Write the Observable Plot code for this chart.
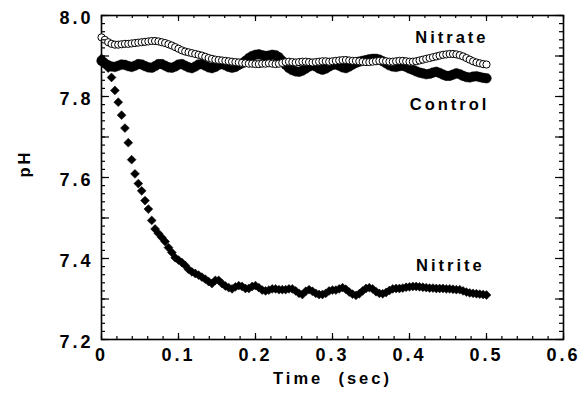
<!DOCTYPE html>
<html><head><meta charset="utf-8">
<script src="https://cdn.jsdelivr.net/npm/d3@7"></script>
<script src="https://cdn.jsdelivr.net/npm/@observablehq/plot@0.6"></script>
<style>
html,body{margin:0;padding:0;background:#fff;}
.chart text{letter-spacing:3px;}
</style></head><body><div id="chart"></div>
<script>
// Sampling grid: 116 samples from 0 to 0.5 s
const nSamples = 116;
const time = d3.range(nSamples).map(i => i * 0.5 / (nSamples - 1));

const nitrate = [
 7.946,7.940,7.934,7.930,7.928,7.928,7.929,7.930,7.930,7.931,
 7.932,7.933,7.934,7.935,7.936,7.937,7.937,7.936,7.934,7.932,
 7.929,7.926,7.922,7.918,7.914,7.911,7.909,7.907,7.905,7.903,
 7.901,7.898,7.895,7.893,7.891,7.890,7.889,7.888,7.887,7.886,
 7.885,7.884,7.883,7.882,7.881,7.881,7.880,7.880,7.881,7.881,
 7.882,7.881,7.880,7.881,7.883,7.885,7.886,7.885,7.884,7.885,
 7.886,7.886,7.885,7.884,7.885,7.886,7.887,7.887,7.886,7.887,
 7.888,7.889,7.890,7.890,7.889,7.888,7.888,7.887,7.886,7.885,
 7.885,7.886,7.887,7.888,7.888,7.887,7.886,7.886,7.887,7.888,
 7.888,7.887,7.886,7.886,7.887,7.889,7.891,7.893,7.895,7.897,
 7.899,7.901,7.903,7.904,7.905,7.905,7.904,7.902,7.899,7.895,
 7.891,7.887,7.884,7.882,7.880,7.879];

const control = [
 7.888,7.882,7.877,7.874,7.873,7.876,7.879,7.878,7.875,7.873,
 7.876,7.880,7.879,7.875,7.872,7.871,7.875,7.880,7.880,7.876,
 7.872,7.871,7.874,7.879,7.880,7.876,7.872,7.870,7.874,7.879,
 7.880,7.876,7.872,7.870,7.873,7.878,7.880,7.877,7.873,7.871,
 7.873,7.878,7.882,7.888,7.895,7.900,7.903,7.904,7.902,7.900,
 7.901,7.903,7.902,7.897,7.888,7.878,7.870,7.865,7.862,7.861,
 7.864,7.869,7.874,7.877,7.874,7.869,7.866,7.869,7.874,7.878,
 7.879,7.876,7.872,7.870,7.874,7.879,7.883,7.886,7.888,7.890,
 7.892,7.893,7.893,7.891,7.887,7.882,7.877,7.874,7.873,7.875,
 7.876,7.873,7.869,7.866,7.862,7.859,7.857,7.855,7.856,7.859,
 7.861,7.858,7.854,7.851,7.851,7.854,7.857,7.855,7.851,7.848,
 7.847,7.849,7.850,7.848,7.846,7.845];

const nitrite = [
 7.894,7.885,7.870,7.847,7.815,7.786,7.754,7.722,7.686,7.644,
 7.609,7.585,7.567,7.543,7.522,7.494,7.473,7.462,7.452,7.442,
 7.427,7.415,7.402,7.396,7.390,7.383,7.373,7.367,7.363,7.359,
 7.354,7.349,7.343,7.338,7.346,7.346,7.338,7.332,7.328,7.325,
 7.330,7.333,7.331,7.326,7.326,7.331,7.333,7.328,7.322,7.320,
 7.322,7.325,7.325,7.323,7.323,7.323,7.325,7.325,7.320,7.314,
 7.311,7.319,7.323,7.319,7.314,7.311,7.311,7.314,7.320,7.322,
 7.322,7.325,7.328,7.324,7.317,7.312,7.309,7.313,7.320,7.326,
 7.328,7.325,7.318,7.314,7.313,7.316,7.321,7.325,7.326,7.326,
 7.327,7.329,7.330,7.331,7.331,7.330,7.329,7.328,7.327,7.327,
 7.326,7.326,7.326,7.325,7.325,7.324,7.323,7.323,7.320,7.317,
 7.315,7.314,7.313,7.312,7.311,7.310];

const xTickLabels = [0, 0.1, 0.2, 0.3, 0.4, 0.5, 0.6];
const yTickLabels = [7.2, 7.4, 7.6, 7.8, 8.0];
const xTitle = "Time\u00a0\u00a0(sec)";
const yTitle = "pH";
const seriesLabels = [
  {t: 0.455, pH: 7.946, name: "Nitrate"},
  {t: 0.452, pH: 7.780, name: "Control"},
  {t: 0.453, pH: 7.383, name: "Nitrite"}
];

const toRows = vals => vals.map((v, i) => ({t: time[i], pH: v}));
const nitrateRows = toRows(nitrate);
const controlRows = toRows(control);
const nitriteRows = toRows(nitrite);

const xDom = [0, 0.6], yDom = [7.2, 8.0];
const xMinor = d3.range(0, 0.6001, 0.02);
const xMajor = d3.range(0, 0.6001, 0.1);
const yMinor = d3.range(7.2, 8.0001, 0.02);
const yMajor = d3.range(7.2, 8.0001, 0.1);

// inward tick marks; px lengths converted to data units of the fixed frame
const plotW = 584 - 101 - 21, plotH = 395 - 15 - 56;
const dxPx = px => px * (xDom[1] - xDom[0]) / plotW;
const dyPx = px => px * (yDom[1] - yDom[0]) / plotH;
const tickSty = {stroke: "black", strokeWidth: 1.2};
const xTicks = (vals, len) => [
  Plot.ruleX(vals, {x: d => d, y1: () => yDom[0], y2: () => yDom[0] + dyPx(len), ...tickSty}),
  Plot.ruleX(vals, {x: d => d, y1: () => yDom[1], y2: () => yDom[1] - dyPx(len), ...tickSty})
];
const yTicks = (vals, len) => [
  Plot.ruleY(vals, {y: d => d, x1: () => xDom[0], x2: () => xDom[0] + dxPx(len), ...tickSty}),
  Plot.ruleY(vals, {y: d => d, x1: () => xDom[1], x2: () => xDom[1] - dxPx(len), ...tickSty})
];

const chart = Plot.plot({
  width: 584, height: 395,
  marginLeft: 101, marginRight: 21, marginTop: 15, marginBottom: 56,
  className: "chart",
  style: {fontFamily: "'Liberation Sans', Arial, sans-serif", fontWeight: "bold", fontSize: "17px", color: "black", background: "white"},
  x: {domain: xDom},
  y: {domain: yDom},
  marks: [
    Plot.frame({stroke: "black", fill: "none", strokeWidth: 1.6}),
    Plot.axisX(xTickLabels, {anchor: "bottom", tickSize: 0, tickPadding: 9, fontSize: 18, label: null,
      tickFormat: d => d === 0 ? "0" : d.toFixed(1)}),
    Plot.axisY(yTickLabels, {anchor: "left", tickSize: 0, tickPadding: 8, fontSize: 18, label: null, dy: 3,
      tickFormat: d => d.toFixed(1)}),
    Plot.dot(controlRows, {x: "t", y: "pH", r: 4.8, fill: "black", stroke: "black", strokeWidth: 0.5}),
    Plot.dot(nitriteRows, {x: "t", y: "pH", r: 4, symbol: "diamond2", fill: "black", stroke: "black", strokeWidth: 0.5}),
    Plot.dot(nitrateRows, {x: "t", y: "pH", r: 3.6, fill: "white", stroke: "black", strokeWidth: 1}),
    Plot.text(seriesLabels, {x: "t", y: "pH", text: "name", fontSize: 16.5, fontWeight: "bold"}),
    Plot.text([xTitle], {frameAnchor: "bottom", text: d => d, dy: 44, fontSize: 16.5}),
    Plot.text([yTitle], {frameAnchor: "left", text: d => d, dx: -77, rotate: -90, fontSize: 16.5}),
    ...xTicks(xMinor, 3), ...xTicks(xMajor, 6),
    ...yTicks(yMinor, 4), ...yTicks(yMajor, 8)
  ]
});
document.getElementById("chart").appendChild(chart);
</script></body></html>
